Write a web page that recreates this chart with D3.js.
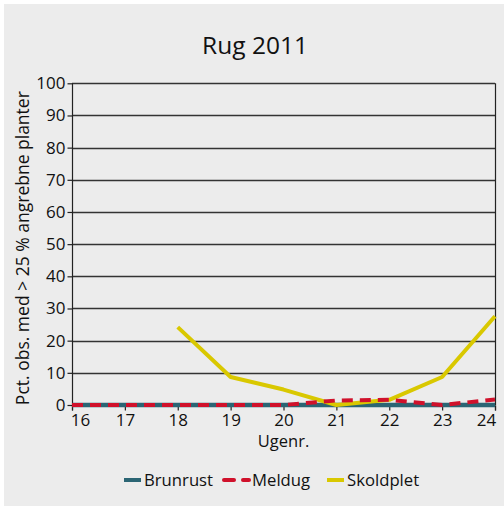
<!DOCTYPE html>
<html><head><meta charset="utf-8">
<script src="https://cdn.jsdelivr.net/npm/d3@7"></script>
<style>body{margin:0;background:#fff}svg{display:block}</style>
</head><body>
<script>
const title = "Rug 2011";
const weeks = [16,17,18,19,20,21,22,23,24];
const yTicks = [0,10,20,30,40,50,60,70,80,90,100];
const brunrust = [0,0,0,0,0,0,0,0,0];
const meldug = [0,0,0,0,0,1.4,1.6,0,1.7];
const skoldplet = [null,null,24.2,8.7,4.8,0,1.6,8.7,27.6];
const seriesNames = ["Brunrust","Meldug","Skoldplet"];
const colors = ["#2b6574","#d0112b","#d9c800"];

const W=504,H=506;
const svg=d3.select("body").append("svg").attr("width",W).attr("height",H);
svg.append("rect").attr("x",4).attr("y",4).attr("width",W-4).attr("height",H-4).attr("fill","#ececec");
const font="'Open Sans', 'Noto Sans', sans-serif";
const x=d3.scaleLinear().domain([16,24]).range([72,495]);
const y=d3.scaleLinear().domain([0,100]).range([405,83.3]);

svg.append("text").attr("x",255).attr("y",54).attr("text-anchor","middle")
  .attr("font-family",font).attr("font-size",24.5).attr("fill","#111").text(title);

// gridlines
svg.append("g").selectAll("line").data(yTicks.filter(d=>d>0)).join("line")
  .attr("x1",x(16)).attr("x2",x(24)).attr("y1",d=>Math.round(y(d))+0.5).attr("y2",d=>Math.round(y(d))+0.5)
  .attr("stroke","#333").attr("stroke-width",1.3);
// right border
svg.append("line").attr("x1",Math.round(x(24))+0.5).attr("x2",Math.round(x(24))+0.5).attr("y1",y(100)).attr("y2",y(0))
  .attr("stroke","#222").attr("stroke-width",1.2);

const yAxis=svg.append("g").attr("transform",`translate(${Math.round(x(16))+0.5},0)`)
  .call(d3.axisLeft(y).tickValues(yTicks).tickSize(5).tickPadding(2));
const xAxis=svg.append("g").attr("transform",`translate(0,${Math.round(y(0))+0.5})`)
  .call(d3.axisBottom(x).tickValues(weeks).tickFormat(d3.format("d")).tickSize(5).tickPadding(3));
[yAxis,xAxis].forEach(g=>{
  g.select(".domain").attr("stroke","#222").attr("stroke-width",1.2);
  g.selectAll(".tick line").attr("stroke","#222").attr("stroke-width",1.2);
  g.selectAll("text").attr("font-family",font).attr("font-size",17).attr("fill","#111");
});
yAxis.select(".domain").attr("d",`M-0,${y(100)}H0V${y(0)}`);
xAxis.selectAll(".tick text").attr("dx",d=>d===16?8:d===24?-9:0);

svg.append("text").attr("x",(x(16)+x(24))/2).attr("y",447).attr("text-anchor","middle")
  .attr("font-family",font).attr("font-size",16.5).attr("fill","#111").text("Ugenr.");
svg.append("text").attr("transform",`translate(29,${(y(0)+y(100))/2+4}) rotate(-90)`).attr("text-anchor","middle")
  .attr("font-family",font).attr("font-size",17.5).attr("fill","#111").text("Pct. obs. med > 25 % angrebne planter");

const line=d3.line().defined(d=>d[1]!==null).x(d=>x(d[0])).y(d=>y(d[1]));
const data=[brunrust,meldug,skoldplet];
const order=[0,2,1];
order.forEach(i=>{
  svg.append("path").datum(weeks.map((w,j)=>[w,data[i][j]]))
    .attr("d",line).attr("fill","none").attr("stroke",colors[i]).attr("stroke-width",i===0?4.5:4)
    .attr("stroke-dasharray",i===1?"11,7":null).attr("stroke-linejoin","round");
});

// legend
const leg=[{sx:124,tx:144},{sx:224,tx:252},{sx:327,tx:347}];
leg.forEach((l,i)=>{
  const g=svg.append("g");
  if(i===1){
    g.append("line").attr("x1",l.sx).attr("x2",l.sx+10).attr("y1",480).attr("y2",480).attr("stroke",colors[i]).attr("stroke-width",4).attr("stroke-linecap","round");
    g.append("line").attr("x1",l.sx+19).attr("x2",l.sx+25).attr("y1",480).attr("y2",480).attr("stroke",colors[i]).attr("stroke-width",4).attr("stroke-linecap","round");
  } else {
    g.append("line").attr("x1",l.sx).attr("x2",l.sx+17).attr("y1",480).attr("y2",480).attr("stroke",colors[i]).attr("stroke-width",4);
  }
  g.append("text").attr("x",l.tx).attr("y",486).attr("font-family",font).attr("font-size",16.7).attr("fill","#111").text(seriesNames[i]);
});
</script>
</body></html>
